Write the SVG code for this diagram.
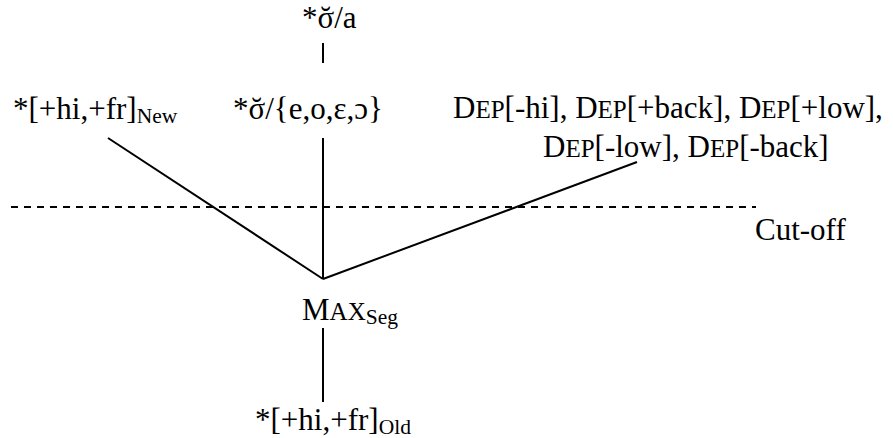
<svg xmlns="http://www.w3.org/2000/svg" width="893" height="438" viewBox="0 0 893 438">
<style>
text{font-family:"Liberation Serif","Times New Roman","DejaVu Serif",serif;font-size:31px;fill:#000}
.sc{font-size:25px}
.sub{font-size:21.5px}
.ln{stroke:#000;stroke-width:2;fill:none}
.cut{stroke:#000;stroke-width:2;stroke-dasharray:7,6;fill:none}
</style>
<rect width="893" height="438" fill="#fff"/>
<g id="connectors">
<line class="ln" x1="323" y1="43" x2="323" y2="63"/>
<line class="ln" x1="323" y1="138" x2="323" y2="279"/>
<line class="ln" x1="108" y1="138" x2="323" y2="279"/>
<line class="ln" x1="637" y1="162" x2="323" y2="279"/>
<line class="ln" x1="323" y1="328" x2="323" y2="402"/>
</g>
<g id="cutoff">
<line class="cut" x1="11" y1="207" x2="756" y2="207"/>
<text x="755" y="240">Cut-off</text>
</g>
<g id="n-top"><text x="302" y="28">*σ<tspan dx="-13.6">˘</tspan><tspan dx="3.3">/a</tspan></text></g>
<g id="n-hifr-new"><text x="13" y="119">*[+hi,+fr]<tspan class="sub" dy="4">New</tspan></text></g>
<g id="n-mid"><text x="233" y="119">*σ<tspan dx="-13.6">˘</tspan><tspan dx="3.3">/{e,o,ɛ,ɔ}</tspan></text></g>
<g id="n-dep"><text x="453" y="118">D<tspan class="sc">EP</tspan>[-hi], D<tspan class="sc">EP</tspan>[+back], D<tspan class="sc">EP</tspan>[+low],</text>
<text x="543" y="157">D<tspan class="sc">EP</tspan>[-low], D<tspan class="sc">EP</tspan>[-back]</text></g>
<g id="n-max"><text x="302" y="320">M<tspan class="sc">AX</tspan><tspan class="sub" dy="4">Seg</tspan></text></g>
<g id="n-old"><text x="255" y="430">*[+hi,+fr]<tspan class="sub" dy="4">Old</tspan></text></g>
</svg>
